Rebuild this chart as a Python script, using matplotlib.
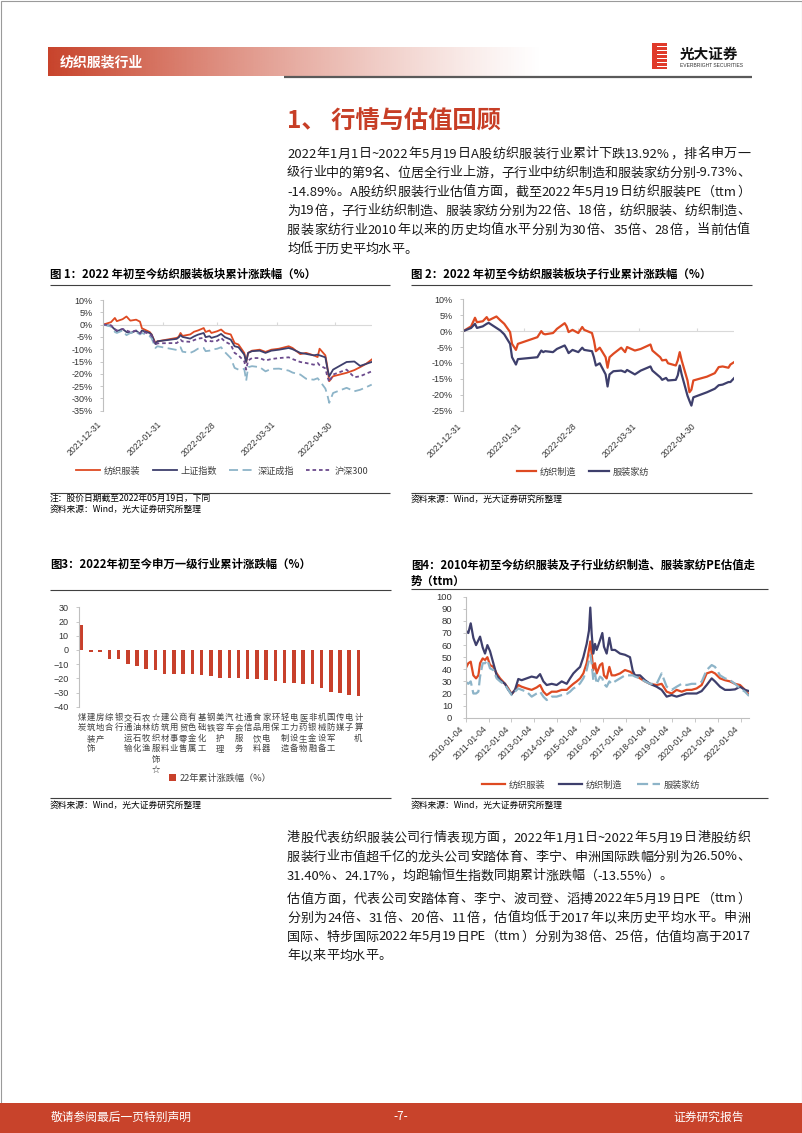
import re
import matplotlib
matplotlib.use('Agg')
import matplotlib.pyplot as plt
import matplotlib.colors as mcolors
from matplotlib.patches import Rectangle
import numpy as np
import pandas as pd

plt.rcParams['font.family'] = ['Liberation Sans', 'Noto Sans CJK SC', 'DejaVu Sans']
BODY = ['Noto Sans CJK SC', 'DejaVu Sans']

"""DATA"""
# fig 1: cumulative change since 2021-12-31 (%)
idx_dates = ['2021-12-31', '2022-01-04', '2022-01-06', '2022-01-07', '2022-01-10', '2022-01-12',
             '2022-01-14', '2022-01-17', '2022-01-19', '2022-01-20', '2022-01-24', '2022-01-25',
             '2022-01-27', '2022-01-28', '2022-02-07', '2022-02-08', '2022-02-09', '2022-02-10',
             '2022-02-14', '2022-02-16', '2022-02-18', '2022-02-21', '2022-02-22', '2022-02-24',
             '2022-02-25', '2022-02-28', '2022-03-02', '2022-03-04', '2022-03-07', '2022-03-09',
             '2022-03-11', '2022-03-14', '2022-03-15', '2022-03-16', '2022-03-18', '2022-03-22',
             '2022-03-25', '2022-03-28', '2022-04-01', '2022-04-06', '2022-04-08', '2022-04-12',
             '2022-04-15', '2022-04-19', '2022-04-21', '2022-04-22', '2022-04-25', '2022-04-26',
             '2022-04-27', '2022-04-29', '2022-05-06', '2022-05-10', '2022-05-13', '2022-05-16',
             '2022-05-19']
textile = [0, 1.0, 2.7, 1.4, 2.2, 3.3, 1.6, 2.0, 1.2, -1.5, -3.0, -4.0, -7.5, -6.8, -5.4,
           -5.0, -3.4, -4.6, -4.0, -2.9, -2.4, -1.4, -3.0, -2.4, -3.4, -2.7, -2.0, -3.4, -4.0, -7.5,
           -8.1, -11.5, -15.2, -11.5, -10.6, -10.2, -11.1, -10.2, -9.8, -8.8, -9.5, -12.0, -11.5,
           -12.5, -13.2, -9.8, -12.5, -17.0, -23.0, -21.0, -19.6, -18.5, -17.3, -16.0, -14.2]
shanghai = [0, -0.5, -2.0, -2.7, -1.8, -3.0, -3.4, -2.5, -3.7, -2.4, -3.4, -4.0, -7.9, -6.8, -5.8,
            -5.2, -4.3, -5.0, -5.7, -4.8, -4.1, -3.4, -5.1, -4.7, -5.4, -4.7, -3.8, -5.1, -6.1, -8.8,
            -9.2, -12.2, -15.2, -11.5, -10.8, -10.6, -11.5, -10.6, -10.2, -9.5, -10.0, -11.5, -11.9,
            -12.5, -12.2, -12.5, -13.3, -17.6, -21.0, -18.3, -15.2, -15.0, -16.8, -16.0, -15.2]
shenzhen = [0, -0.8, -3.0, -3.4, -2.4, -4.3, -3.4, -3.0, -4.0, -3.4, -4.7, -5.5, -9.5, -8.8, -10.3,
            -10.0, -9.2, -11.0, -11.5, -10.8, -9.8, -9.5, -10.8, -10.6, -10.2, -9.8, -9.2, -11.2, -13.6,
            -17.6, -18.3, -18.0, -22.8, -17.3, -16.9, -17.3, -19.0, -18.0, -17.9, -18.7, -19.5, -20.3,
            -22.0, -22.4, -21.8, -22.8, -26.0, -28.5, -31.8, -27.8, -25.7, -27.1, -26.5, -25.5, -24.4]
hs300 = [0, -0.3, -1.8, -2.4, -1.8, -2.4, -3.0, -2.4, -3.6, -2.8, -3.8, -4.6, -8.3, -7.6, -7.5,
         -6.9, -6.2, -6.8, -7.0, -6.3, -5.7, -5.4, -6.8, -6.6, -6.8, -6.6, -5.4, -6.9, -8.1, -11.5,
         -12.5, -14.9, -18.3, -14.6, -13.6, -13.6, -14.6, -14.0, -13.6, -13.3, -14.0, -15.2, -15.6,
         -16.3, -15.6, -16.5, -17.8, -21.0, -23.3, -20.3, -18.3, -21.4, -21.0, -20.0, -19.0]
idx_names = ['纺织服装', '上证指数', '深证成指', '沪深300']

# fig 2: sub-industries (%)
sub_dates = ['2021-12-31', '2022-01-04', '2022-01-06', '2022-01-07', '2022-01-10', '2022-01-12',
             '2022-01-13', '2022-01-17', '2022-01-19', '2022-01-21', '2022-01-24', '2022-01-25',
             '2022-01-27', '2022-01-28', '2022-02-07', '2022-02-09', '2022-02-10', '2022-02-11',
             '2022-02-15', '2022-02-16', '2022-02-17', '2022-02-21', '2022-02-22', '2022-02-23',
             '2022-02-25', '2022-02-28', '2022-03-02', '2022-03-03', '2022-03-07', '2022-03-08',
             '2022-03-09', '2022-03-11', '2022-03-14', '2022-03-15', '2022-03-16', '2022-03-18',
             '2022-03-22', '2022-03-24', '2022-03-25', '2022-03-29', '2022-04-01', '2022-04-06',
             '2022-04-07', '2022-04-11', '2022-04-12', '2022-04-14', '2022-04-15', '2022-04-19',
             '2022-04-20', '2022-04-21', '2022-04-22', '2022-04-25', '2022-04-26', '2022-04-27',
             '2022-04-28', '2022-05-05', '2022-05-09', '2022-05-11', '2022-05-13', '2022-05-16',
             '2022-05-17', '2022-05-19']
weaving = [0, 1.5, 4.2, 2.8, 3.1, 4.4, 3.4, 4.6, 3.4, 2.3, -0.3, -4.0, -5.9, -4.0, -1.9, 0.0,
           -0.8, -1.0, -0.6, 0.0, 0.7, 2.5, 1.5, -0.3, 0.4, -0.6, 1.3, 0.4, -0.6, -2.9, -6.3, -5.2,
           -8.2, -11.5, -8.2, -7.1, -5.2, -6.6, -5.0, -6.1, -5.6, -4.2, -6.1, -8.2, -9.2, -9.0,
           -10.1, -10.8, -9.2, -6.6, -9.2, -15.5, -19.2, -18.4, -15.5, -14.3, -13.2, -11.3, -11.1,
           -11.5, -10.5, -9.7]
apparel = [0, 1.0, 2.3, 1.0, 1.5, 2.3, 2.6, 1.0, 0.2, -1.0, -4.0, -8.2, -10.5, -8.8, -8.2, -6.1,
           -6.6, -6.3, -6.6, -6.1, -5.6, -4.5, -5.6, -6.9, -5.9, -6.6, -5.2, -5.9, -6.3, -8.2, -10.8,
           -10.1, -13.6, -17.4, -13.6, -12.6, -12.4, -12.9, -12.2, -13.6, -12.4, -11.1, -12.4, -14.5,
           -15.3, -14.7, -15.5, -15.3, -13.9, -10.8, -13.6, -20.3, -21.9, -23.4, -20.8, -19.2, -18.1,
           -17.0, -16.8, -16.0, -16.0, -14.7]
sub_names = ['纺织制造', '服装家纺']
ytd_ticks = ['2021-12-31', '2022-01-31', '2022-02-28', '2022-03-31', '2022-04-30']

# fig 3: SW level-1 industries, YTD change (%)
industries = ['煤炭', '建筑装饰', '房地产', '综合', '银行', '交通运输', '石油石化', '农林牧渔',
              '☆纺织服饰☆', '建筑材料', '公用事业', '商贸零售', '有色金属', '基础化工', '钢铁',
              '美容护理', '汽车', '社会服务', '通信', '食品饮料', '家用电器', '环保', '轻工制造',
              '电力设备', '医药生物', '非银金融', '机械设备', '国防军工', '传媒', '电子', '计算机']
ytd_change = [17.5, -1.2, -1.8, -6.3, -6.6, -9.9, -11.3, -13.6, -14.0, -16.7, -16.7, -17.1, -17.1,
              -17.4, -18.1, -19.7, -20.0, -20.0, -20.4, -20.7, -20.9, -21.6, -23.0, -23.5, -23.7,
              -24.0, -27.0, -29.4, -30.1, -31.9, -32.7]

# fig 4: PE (ttm) since 2010
pe_dates = ['2010-01-04', '2010-02-15', '2010-03-25', '2010-05-06', '2010-06-18', '2010-07-25',
            '2010-08-21', '2010-10-02', '2010-11-08', '2010-12-16', '2011-01-27', '2011-03-21',
            '2011-05-13', '2011-07-06', '2011-09-23', '2011-11-15', '2012-01-07', '2012-02-29',
            '2012-04-22', '2012-06-14', '2012-09-02', '2012-11-21', '2013-02-09', '2013-04-04',
            '2013-05-27', '2013-07-19', '2013-10-07', '2013-12-25', '2014-03-15', '2014-06-03',
            '2014-07-26', '2014-09-17', '2014-11-09', '2015-01-02', '2015-02-23', '2015-04-17',
            '2015-05-24', '2015-06-14', '2015-07-06', '2015-08-01', '2015-08-28', '2015-09-24',
            '2015-11-16', '2015-12-23', '2016-01-18', '2016-03-01', '2016-04-13', '2016-05-20',
            '2016-07-12', '2016-09-30', '2016-12-18', '2017-03-08', '2017-04-20', '2017-05-27',
            '2017-08-15', '2017-11-02', '2018-01-21', '2018-05-07', '2018-07-26', '2018-10-14',
            '2019-01-02', '2019-03-22', '2019-06-10', '2019-08-29', '2019-11-17', '2020-02-04',
            '2020-04-24', '2020-07-13', '2020-10-01', '2020-11-23', '2021-02-11', '2021-05-01',
            '2021-07-20', '2021-10-08', '2021-12-27', '2022-03-16', '2022-05-19']
pe_textile = [40.8, 45, 46.3, 35, 32.5, 35, 45, 49, 47.7, 50, 43.5, 42, 36.6, 32.5, 28, 24.2, 19.5,
              23, 27, 25.6, 24.2, 23, 25, 27, 21.5, 18.7, 21.5, 21.5, 23, 23, 25.6, 28, 30, 32.5,
              36.6, 45, 56, 63, 53, 39.4, 45, 36.6, 43.5, 45, 35, 32.5, 42, 35, 35, 36.6, 39.4, 38,
              36.6, 35, 32.5, 30, 28, 27, 28, 21.5, 20, 23, 21.5, 23, 23, 24.2, 27, 36.6, 38, 36.6,
              32.5, 31, 30, 28, 27, 23, 19]
pe_weaving = [72, 70, 78, 66, 60, 64, 67, 58, 53, 60, 55, 45, 35, 31, 28, 23, 19.5, 23, 32, 31,
              32.5, 34, 33, 36, 30, 27, 28, 27, 30, 28, 32.5, 36.6, 39.4, 42, 50, 61, 72, 91, 69.6,
              53, 61, 56, 64, 70, 58.7, 53, 66, 56, 56, 53, 52, 50, 39, 35, 35, 31, 28, 25.6, 23,
              17.4, 18.7, 17.4, 18.7, 20, 20, 20, 22, 27, 32.5, 30, 25.6, 23, 23, 23.4, 25.6, 23, 22]
pe_apparel = [29.7, 28, 30, 20, 20, 21.5, 34, 45, 45, 47.7, 40.8, 39.4, 32.5, 30, 27, 23, 18.7,
              21.5, 24.2, 23, 21.5, 17.4, 20, 21.5, 17.4, 14.6, 17.4, 17.4, 18.7, 19.6, 21.5, 24.2,
              25.6, 28.4, 32.5, 39.4, 47.7, 52, 45, 31, 36.6, 28, 34, 32.5, 28, 25.6, 30, 28, 30,
              32.5, 35, 35, 35, 34, 32.5, 30, 28, 28, 36.6, 25.6, 23, 25.6, 28, 27, 28, 28, 29.7,
              39.4, 43.5, 42, 35, 32.5, 31, 28, 24.2, 21.5, 18]
pe_names = ['纺织服装', '纺织制造', '服装家纺']
pe_ticks = ['2010-01-04', '2011-01-04', '2012-01-04', '2013-01-04', '2014-01-04', '2015-01-04',
            '2016-01-04', '2017-01-04', '2018-01-04', '2019-01-04', '2020-01-04', '2021-01-04',
            '2022-01-04']

para1 = ['2022年1月1日~2022年5月19日A股纺织服装行业累计下跌13.92%，排名申万一',
         '级行业中的第9名、位居全行业上游，子行业中纺织制造和服装家纺分别-9.73%、',
         '-14.89%。A股纺织服装行业估值方面，截至2022年5月19日纺织服装PE（ttm）',
         '为19倍，子行业纺织制造、服装家纺分别为22倍、18倍，纺织服装、纺织制造、',
         '服装家纺行业2010年以来的历史均值水平分别为30倍、35倍、28倍，当前估值',
         '均低于历史平均水平。']
para2 = ['港股代表纺织服装公司行情表现方面，2022年1月1日~2022年5月19日港股纺织',
         '服装行业市值超千亿的龙头公司安踏体育、李宁、申洲国际跌幅分别为26.50%、',
         '31.40%、24.17%，均跑输恒生指数同期累计涨跌幅（-13.55%）。']
para3 = ['估值方面，代表公司安踏体育、李宁、波司登、滔搏2022年5月19日PE（ttm）',
         '分别为24倍、31倍、20倍、11倍，估值均低于2017年以来历史平均水平。申洲',
         '国际、特步国际2022年5月19日PE（ttm）分别为38倍、25倍，估值均高于2017',
         '年以来平均水平。']

"""STYLE"""
W, H = 802, 1133
RED = '#C8432B'
C_RED = '#DE4A22'
C_NAVY = '#3E3F6C'
C_BLUE = '#8DB4C8'
C_PURP = '#6B4A8C'
AXC = '#BFBFBF'
TXT = '#333333'

fig = plt.figure(figsize=(W / 100, H / 100), dpi=100)
bg = fig.add_axes([0, 0, 1, 1])
bg.set_xlim(0, W)
bg.set_ylim(H, 0)
bg.set_autoscale_on(False)
bg.axis('off')


def px_rect(x0, y0, x1, y1):
    return [x0 / W, 1 - y1 / H, (x1 - x0) / W, (y1 - y0) / H]


def hline(x0, x1, y, color='#404040', lw=0.8):
    bg.plot([x0, x1], [y, y], color=color, lw=lw, solid_capstyle='butt')


def justified(lines, x0, x1, y0, dy, size):
    r = fig.canvas.get_renderer()
    for i, line in enumerate(lines):
        y = y0 + i * dy
        toks = re.findall(r'[A-Za-z0-9.%~\-]+|.', line)
        arts, ws = [], []
        for t in toks:
            a = bg.text(0, y, t, fontsize=size, va='center', ha='left', family=BODY, color='#1a1a1a')
            arts.append(a)
            ws.append(a.get_window_extent(r).width)
        last = i == len(lines) - 1
        gap = 0 if last else (x1 - x0 - sum(ws)) / (len(toks) - 1)
        x = x0
        for a, w in zip(arts, ws):
            a.set_x(x)
            x += w + gap


def style_axes(ax, pad):
    for s in ['top', 'right', 'bottom']:
        ax.spines[s].set_visible(False)
    ax.spines['left'].set_color(AXC)
    ax.spines['left'].set_linewidth(0.8)
    ax.tick_params(axis='y', length=2, width=0.6, color=AXC, labelsize=6.5,
                   labelcolor=TXT, pad=pad)
    ax.set_facecolor('none')


def legend_at(ax, cx, cy, ncol, hl, cs, **kw):
    leg = ax.legend(loc='center', bbox_to_anchor=(cx / W, 1 - cy / H),
                    bbox_transform=fig.transFigure, ncol=ncol, frameon=False,
                    fontsize=6.6, handlelength=hl, handletextpad=0.4, columnspacing=cs,
                    borderaxespad=0, borderpad=0, **kw)
    for t in leg.get_texts():
        t.set_color('#404040')
        t.set_family(BODY)
    return leg


"""PAGE DECORATION"""
# page frame
bg.add_patch(Rectangle((0.5, 0.5), W - 1, H - 1, fill=False, ec='#9a9a9a', lw=0.8))
# header band with fade
grad = np.ones((1, 256, 4))
grad[..., :3] = mcolors.to_rgb(RED)
grad[..., 3] = (1 - np.linspace(0, 1, 256)) ** 1.2
bg.imshow(grad, extent=(48, 545, 76, 47), aspect='auto', interpolation='bilinear')
bg.text(60, 62, '纺织服装行业', color='white', fontsize=10, weight='bold', va='center',
        family=BODY)
hline(284, 752, 77, color='#5a5a5a', lw=1.6)
# logo
bg.add_patch(Rectangle((652, 43), 15, 26, color='#E03A2A', lw=0))
for k in range(6):
    bg.add_patch(Rectangle((657, 45.5 + 4 * k), 10, 1.3, color='white', lw=0))
bg.text(680, 53.5, '光大证券', fontsize=10.5, weight='bold', va='center', family=BODY,
        color='#111111')
bg.text(680, 65.5, 'EVERBRIGHT SECURITIES', fontsize=3.6, va='center', color='#333333')

# heading and text
bg.text(287, 122, '1、 行情与估值回顾', color='#C73E26', fontsize=17.5, weight='bold',
        va='center', family=BODY)
justified(para1, 287, 750, 154, 19.0, 9.4)
justified(para2, 287, 750, 838, 19.0, 9.4)
justified(para3, 287, 750, 899, 19.0, 9.4)

# footer
bg.add_patch(Rectangle((0, 1103), W, 30, color=RED, lw=0))
bg.text(51, 1117, '敬请参阅最后一页特别声明', color='white', fontsize=8.5, va='center', family=BODY)
bg.text(401, 1117, '-7-', color='white', fontsize=8.5, va='center', ha='center', family=BODY)
bg.text(744, 1117, '证券研究报告', color='white', fontsize=8.5, va='center', ha='right', family=BODY)

# chart titles, rules and sources
TS = 8.2
bg.text(50, 274, '图 1：2022 年初至今纺织服装板块累计涨跌幅（%）', fontsize=TS, weight='bold',
        va='center', family=BODY)
bg.text(411, 274, '图 2：2022 年初至今纺织服装板块子行业累计涨跌幅（%）', fontsize=TS,
        weight='bold', va='center', family=BODY)
bg.text(50, 564, '图3：2022年初至今申万一级行业累计涨跌幅（%）', fontsize=TS, weight='bold',
        va='center', family=BODY)
bg.text(411, 565, '图4：2010年初至今纺织服装及子行业纺织制造、服装家纺PE估值走', fontsize=TS,
        weight='bold', va='center', family=BODY)
bg.text(411, 581, '势（ttm）', fontsize=TS, weight='bold', va='center', family=BODY)
hline(50, 390, 284.5)
hline(411, 752, 284.5)
hline(50, 391, 589.5)
hline(411, 768, 588.5)
hline(50, 390, 492.5)
hline(411, 752, 493)
hline(50, 391, 798)
hline(411, 768, 798)
SS = 6.3
bg.text(50, 499.5, '注：股价日期截至2022年05月19日，下同', fontsize=SS, va='center', family=BODY)
bg.text(50, 509.5, '资料来源：Wind，光大证券研究所整理', fontsize=SS, va='center', family=BODY)
bg.text(411, 499.5, '资料来源：Wind，光大证券研究所整理', fontsize=SS, va='center', family=BODY)
bg.text(50, 805.5, '资料来源：Wind，光大证券研究所整理', fontsize=SS, va='center', family=BODY)
bg.text(411, 805.5, '资料来源：Wind，光大证券研究所整理', fontsize=SS, va='center', family=BODY)

"""FIG 1"""
d1 = pd.to_datetime(idx_dates)
t1 = pd.to_datetime(ytd_ticks)
ax1 = fig.add_axes(px_rect(103.3, 300, 371.7, 410.7))
style_axes(ax1, 5.8)
ax1.plot(d1, textile, color=C_RED, lw=1.3, label=idx_names[0])
ax1.plot(d1, shanghai, color=C_NAVY, lw=1.3, label=idx_names[1])
ax1.plot(d1, shenzhen, color=C_BLUE, lw=1.3, dashes=(5, 2.5), label=idx_names[2])
ax1.plot(d1, hs300, color=C_PURP, lw=1.3, dashes=(2, 1.6), label=idx_names[3])
ax1.set_ylim(-35, 10)
ax1.set_yticks(np.arange(-35, 11, 5))
ax1.set_yticklabels([f'{v}%' for v in range(-35, 11, 5)])
ax1.set_xlim(d1[0], d1[-1])
ax1.axhline(0, color='#D9D9D9', lw=0.8, zorder=0)
ax1.vlines(t1, 0, 1.2, color='#D9D9D9', lw=0.8, zorder=0)
ax1.set_xticks(t1)
ax1.set_xticklabels(ytd_ticks, rotation=45, ha='right')
ax1.tick_params(axis='x', length=0, pad=6.7, labelsize=6.2, labelcolor=TXT)
legend_at(ax1, 222, 471, 4, 2.7, 1.3)

"""FIG 2"""
d2 = pd.to_datetime(sub_dates)
ax2 = fig.add_axes(px_rect(463.3, 299.3, 734.3, 410.7))
style_axes(ax2, 5.8)
ax2.plot(d2, weaving, color=C_RED, lw=1.6, label=sub_names[0])
ax2.plot(d2, apparel, color=C_NAVY, lw=1.6, label=sub_names[1])
ax2.set_ylim(-25, 10)
ax2.set_yticks(np.arange(-25, 11, 5))
ax2.set_yticklabels([f'{v}%' for v in range(-25, 11, 5)])
ax2.set_xlim(d2[0], d2[-1])
ax2.axhline(0, color='#D9D9D9', lw=0.8, zorder=0)
ax2.vlines(t1, 0, 0.95, color='#D9D9D9', lw=0.8, zorder=0)
ax2.set_xticks(t1)
ax2.set_xticklabels(ytd_ticks, rotation=45, ha='right')
ax2.tick_params(axis='x', length=0, pad=7.9, labelsize=6.2, labelcolor=TXT)
legend_at(ax2, 583, 472, 2, 2.1, 1.4)

"""FIG 3"""
ax3 = fig.add_axes(px_rect(79.3, 607.3, 365.4, 706.7))
style_axes(ax3, 5.8)
xpos = np.arange(len(industries))
ax3.bar(xpos, ytd_change, width=0.38, color='#C8402B', label='22年累计涨跌幅（%）')
ax3.set_xlim(-0.25, len(industries) - 0.25)
ax3.set_ylim(-40, 30)
ax3.set_yticks(np.arange(-40, 31, 10))
ax3.set_xticks(xpos)
ax3.set_xticklabels(['\n'.join(n) for n in industries], family=BODY, fontsize=6.0,
                    linespacing=1.2, va='top')
ax3.tick_params(axis='x', length=0, pad=4.5, labelcolor='#404040')
legend_at(ax3, 220, 778, 1, 0.7, 1.0, handleheight=0.7)

"""FIG 4"""
d4 = pd.to_datetime(pe_dates)
t4 = pd.to_datetime(pe_ticks)
ax4 = fig.add_axes(px_rect(465.7, 596.7, 749, 717.7))
style_axes(ax4, 7.6)
ax4.spines['bottom'].set_visible(True)
ax4.spines['bottom'].set_color(AXC)
ax4.spines['bottom'].set_linewidth(0.8)
ax4.plot(d4, pe_textile, color=C_RED, lw=1.6, label=pe_names[0])
ax4.plot(d4, pe_weaving, color=C_NAVY, lw=1.6, label=pe_names[1])
ax4.plot(d4, pe_apparel, color=C_BLUE, lw=1.6, dashes=(5, 2), label=pe_names[2])
ax4.set_ylim(0, 100)
ax4.set_yticks(np.arange(0, 101, 10))
ax4.tick_params(axis='y', labelsize=6.8)
ax4.set_xlim(d4[0], d4[-1])
ax4.set_xticks(t4)
ax4.set_xticklabels(pe_ticks, rotation=45, ha='right')
ax4.tick_params(axis='x', length=3, width=0.6, color=AXC, pad=1.6, labelsize=6.2,
                labelcolor=TXT)
legend_at(ax4, 591, 785, 3, 2.5, 1.6)

fig.savefig('out.png', dpi=100)
